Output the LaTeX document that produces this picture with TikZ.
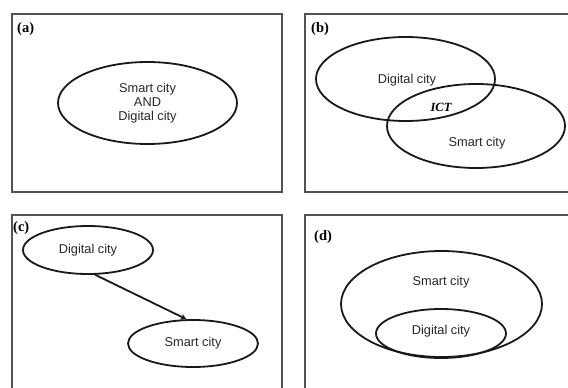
\documentclass[tikz,border=0pt]{standalone}
\usepackage{fontspec}
\setmainfont{Liberation Serif}
\setsansfont{Liberation Sans}
\usetikzlibrary{shapes.geometric,arrows.meta}
\begin{document}
\begin{tikzpicture}[x=1pt,y=-1pt,
  frame/.style={draw=black!68, line width=2.2pt},
  oval/.style={ellipse, draw=black!90, line width=1.8pt, inner sep=0pt},
  txt/.style={font=\sffamily\fontsize{12.8}{14}\selectfont, text=black!85, align=center, inner sep=0pt},
  tag/.style={font=\rmfamily\bfseries\fontsize{14.5}{16}\selectfont, anchor=base west, inner sep=0pt},
  ict/.style={font=\rmfamily\bfseries\itshape\fontsize{12.5}{14}\selectfont, inner sep=0pt},
  link/.style={draw=black!90, line width=1.8pt, -{Stealth[length=6pt,width=6pt]}}
]
\useasboundingbox (0,0) rectangle (568,388);
\clip (0,0) rectangle (568,388);

% frames
\draw[frame] (12,14) rectangle (282,192);
\draw[frame] (305,14) rectangle (590,192);
\draw[frame] (12,215) rectangle (282,410);
\draw[frame] (305,215) rectangle (590,410);

% (a)
\node[tag] (ta) at (17,32) {(a)};
\node[oval, txt, minimum width=179pt, minimum height=82pt] (sa) at (147.5,103)
  {Smart city\\AND\\Digital city};

% (b)
\node[tag] (tb) at (311,32) {(b)};
\node[oval, minimum width=179pt, minimum height=84pt] (db) at (405.5,79) {};
\node[oval, minimum width=178pt, minimum height=84pt] (sb) at (476,126) {};
\node[txt] (dbt) at (407,80) {Digital city};
\node[ict] (ictb) at (441,107) {ICT};
\node[txt] (sbt) at (477,143) {Smart city};

% (c)
\node[tag] (tc) at (13,231) {(c)};
\node[oval, txt, minimum width=130pt, minimum height=48pt] (dc) at (88,250) {Digital city};
\node[oval, txt, minimum width=130pt, minimum height=47pt] (sc) at (193,343.5) {Smart city};
\draw[link] (dc.-74) -- (sc.105);

% (d)
\node[tag] (td) at (314,240) {(d)};
\node[oval, minimum width=201pt, minimum height=106pt] (sd) at (441.5,304) {};
\node[oval, minimum width=130pt, minimum height=49pt] (dd) at (441,333.5) {};
\node[txt] (sdt) at (441,282) {Smart city};
\node[txt] (ddt) at (441,331) {Digital city};
\end{tikzpicture}
\end{document}
